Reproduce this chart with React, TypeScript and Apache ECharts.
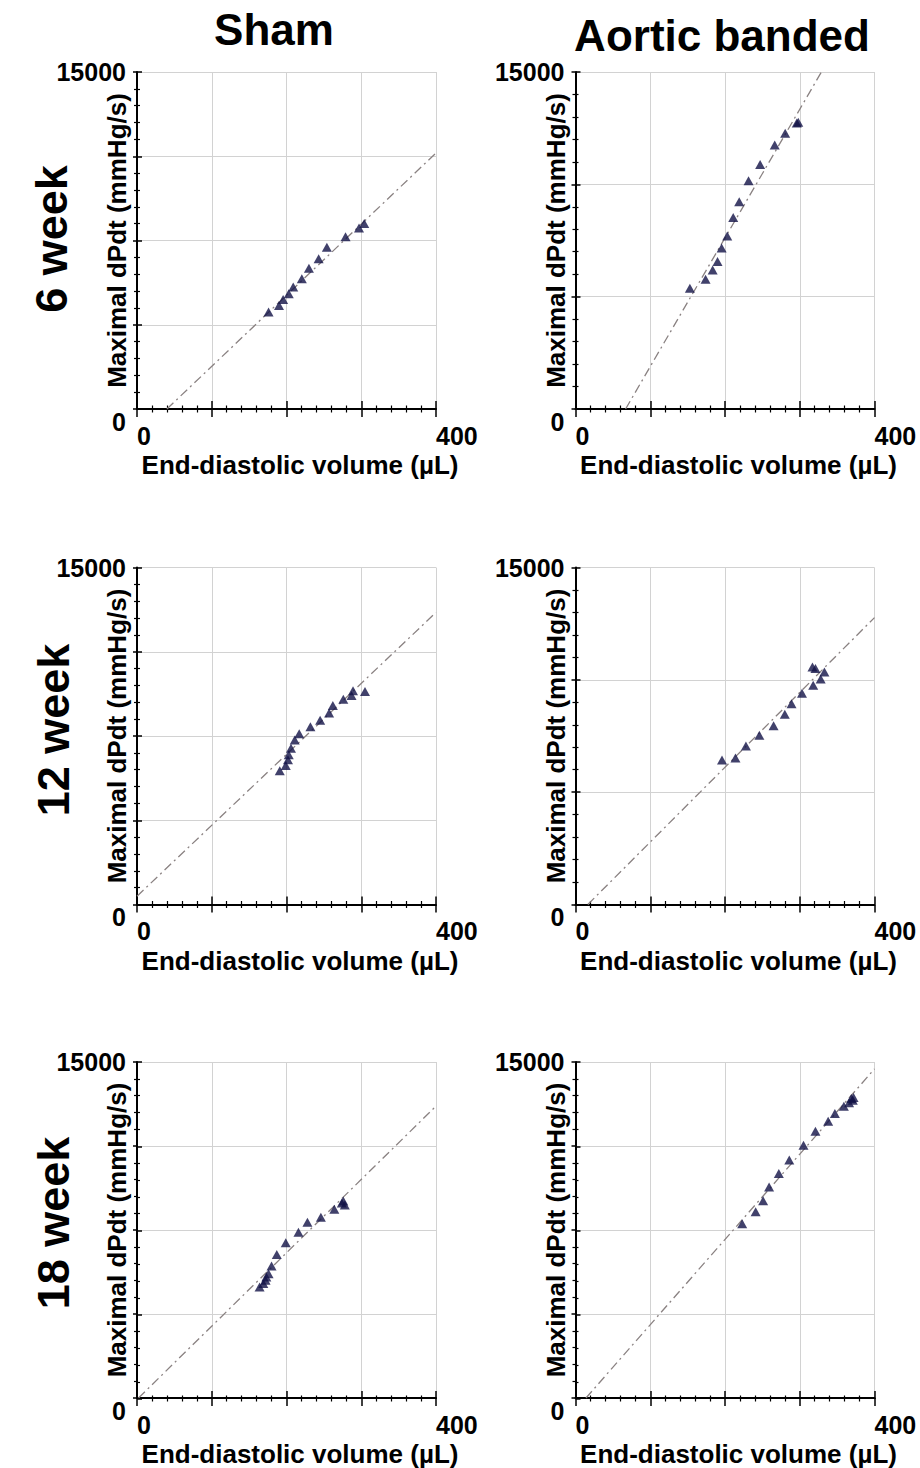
import React, { useEffect, useRef } from 'react';
import * as echarts from 'echarts';

const FONT = '"Liberation Sans", Arial, Helvetica, sans-serif';

const columnTitles = ['Sham', 'Aortic banded'];
const rowTitles = ['6 week', '12 week', '18 week'];
const xAxisName = 'End-diastolic volume (µL)';
const yAxisName = 'Maximal dPdt (mmHg/s)';
const xMin = 0;
const xMax = 400;
const xInterval = 100;
const yMin = 0;
const yMax = 15000;
const xTickLabels = [0, 400];
const yTickLabels = [0, 15000];
// y grid interval for each panel (row-major: Sham, Aortic banded)
const yIntervals = [3750, 5000, 3750, 5000, 3750, 3750];

// Sham 6 week
const sham6EDV = [176, 190, 195.5, 203, 209, 220.5, 230, 243, 254, 279, 297, 304];
const sham6DPDT = [4320, 4610, 4870, 5130, 5430, 5800, 6260, 6690, 7200, 7670, 8060, 8260];
const sham6Fit = [[40, 0], [400, 11395]];

// Aortic banded 6 week
const ab6EDV = [153, 174, 183.5, 190, 195.5, 203, 211, 219, 231.5, 247, 266.5, 280.5, 296, 298];
const ab6DPDT = [5370, 5770, 6190, 6560, 7170, 7700, 8520, 9230, 10160, 10880, 11750, 12270, 12730, 12760];
const ab6Fit = [[67, 0], [329, 15000]];

// Sham 12 week
const sham12EDV = [191, 199, 202, 203, 206, 211, 217, 232, 245, 257, 262, 276, 287, 289, 305];
const sham12DPDT = [5950, 6190, 6440, 6660, 6960, 7320, 7600, 7910, 8200, 8520, 8860, 9140, 9300, 9510, 9480];
const sham12Fit = [[0, 370], [400, 13000]];

// Aortic banded 12 week
const ab12EDV = [196, 214, 228, 246, 265, 280, 289, 303, 318, 328, 333, 317, 321];
const ab12DPDT = [6430, 6520, 7050, 7530, 7960, 8470, 8930, 9400, 9760, 10040, 10350, 10570, 10510];
const ab12Fit = [[16.5, 0], [400, 12770]];

// Sham 18 week
const sham18EDV = [164, 169, 172, 173, 176, 180, 187, 199, 216, 228, 246, 264, 274, 276, 278];
const sham18DPDT = [4960, 5110, 5260, 5400, 5550, 5890, 6410, 6930, 7400, 7850, 8070, 8430, 8710, 8800, 8620];
const sham18Fit = [[2, 0], [400, 13030]];

// Aortic banded 18 week
const ab18EDV = [223, 241, 251, 259, 272, 286, 305, 321, 338, 347, 359, 366, 369, 371, 372];
const ab18DPDT = [7780, 8310, 8810, 9420, 10020, 10620, 11280, 11910, 12360, 12700, 13030, 13180, 13370, 13290, 13410];
const ab18Fit = [[14, 0], [400, 14690]];

const panelEDV = [sham6EDV, ab6EDV, sham12EDV, ab12EDV, sham18EDV, ab18EDV];
const panelDPDT = [sham6DPDT, ab6DPDT, sham12DPDT, ab12DPDT, sham18DPDT, ab18DPDT];
const panelFit = [sham6Fit, ab6Fit, sham12Fit, ab12Fit, sham18Fit, ab18Fit];

// layout
const colLeft = [137, 575.5];
const rowTop = [72, 567.5, 1062];
const plotW = 299;
const plotH = 337;

function buildOption() {
  const grids: any[] = [];
  const xAxes: any[] = [];
  const yAxes: any[] = [];
  const series: any[] = [];
  const n = 6;
  const labelStyle = { color: '#000', fontWeight: 'bold', fontSize: 25, fontFamily: FONT };
  const nameStyle = { color: '#000', fontWeight: 'bold', fontSize: 26, fontFamily: FONT };

  for (let pass = 0; pass < 2; pass++) {
    for (let i = 0; i < n; i++) {
      const r = Math.floor(i / 2);
      const c = i % 2;
      grids.push({ left: colLeft[c], top: rowTop[r], width: plotW, height: plotH, containLabel: false });
      const gi = pass * n + i;
      const main = pass === 0;
      xAxes.push({
        type: 'value',
        gridIndex: gi,
        min: xMin,
        max: xMax,
        interval: xInterval,
        position: 'bottom',
        axisLine: { show: main, onZero: false, lineStyle: { color: '#000', width: 2 } },
        axisTick: { show: true, inside: !main, length: 8, lineStyle: { color: '#000', width: 1.5 } },
        minorTick: { show: true, splitNumber: 5, length: 3.5, lineStyle: { color: '#000', width: 1.2 } },
        splitLine: { show: main, lineStyle: { color: '#d2d2d2', width: 1 } },
        minorSplitLine: { show: false },
        axisLabel: main
          ? {
              show: true,
              margin: 14,
              ...labelStyle,
              showMinLabel: true,
              showMaxLabel: true,
              alignMinLabel: 'left',
              alignMaxLabel: 'left',
              formatter: (v: number) => (xTickLabels.indexOf(v) >= 0 ? String(v) : ''),
            }
          : { show: false },
        name: main ? xAxisName : '',
        nameLocation: 'middle',
        nameGap: 43,
        nameMoveOverlap: false,
        nameTextStyle: { ...nameStyle, padding: [0, 0, 0, 27] },
      });
      yAxes.push({
        type: 'value',
        gridIndex: gi,
        min: yMin,
        max: yMax,
        interval: yIntervals[i],
        position: 'left',
        axisLine: { show: main, onZero: false, lineStyle: { color: '#000', width: 2 } },
        axisTick: { show: true, inside: !main, length: main ? 4 : 5, lineStyle: { color: '#000', width: 1.5 } },
        minorTick: { show: true, splitNumber: 5, length: 3, lineStyle: { color: '#000', width: 1.2 } },
        splitLine: { show: main, lineStyle: { color: '#d2d2d2', width: 1 } },
        minorSplitLine: { show: false },
        axisLabel: main
          ? {
              show: true,
              margin: 11,
              ...labelStyle,
              showMinLabel: true,
              showMaxLabel: true,
              verticalAlignMinLabel: 'top',
              formatter: (v: number) => (yTickLabels.indexOf(v) >= 0 ? String(v) : ''),
            }
          : { show: false },
        name: main ? yAxisName : '',
        nameLocation: 'middle',
        nameGap: 7,
        nameMoveOverlap: false,
        nameTextStyle: nameStyle,
      });
    }
  }

  for (let i = 0; i < n; i++) {
    series.push({
      type: 'line',
      xAxisIndex: i,
      yAxisIndex: i,
      data: panelFit[i],
      symbol: 'none',
      silent: true,
      z: 2,
      lineStyle: { type: [9, 4, 2, 4], color: '#8a8282', width: 1.3 },
    });
    series.push({
      type: 'scatter',
      xAxisIndex: i,
      yAxisIndex: i,
      data: panelEDV[i].map((x, k) => [x, panelDPDT[i][k]]),
      symbol: 'triangle',
      symbolSize: [10, 9],
      z: 3,
      itemStyle: { color: '#111146' },
    });
  }

  const titleY = [29, 35];
  const titleX = [274, 722];
  const rowLabelX = [51, 53, 53];
  const rowLabelY = [239, 730, 1223];
  const graphic: any[] = [];
  columnTitles.forEach((t, c) => {
    graphic.push({
      type: 'text',
      x: titleX[c],
      y: titleY[c],
      style: { text: t, fill: '#000', font: `bold 44px ${FONT}`, align: 'center', verticalAlign: 'middle' },
    });
  });
  rowTitles.forEach((t, r) => {
    graphic.push({
      type: 'text',
      x: rowLabelX[r],
      y: rowLabelY[r],
      rotation: Math.PI / 2,
      style: { text: t, fill: '#000', font: `bold 45px ${FONT}`, align: 'center', verticalAlign: 'middle' },
    });
  });

  return {
    animation: false,
    backgroundColor: '#fff',
    grid: grids,
    xAxis: xAxes,
    yAxis: yAxes,
    series,
    graphic,
  };
}

export default function App() {
  const ref = useRef<HTMLDivElement>(null);
  useEffect(() => {
    document.body.style.margin = '0';
    if (!ref.current) return;
    const chart = echarts.init(ref.current, null, { renderer: 'svg' });
    chart.setOption(buildOption() as any);
    return () => chart.dispose();
  }, []);
  return <div ref={ref} style={{ width: 920, height: 1468 }} />;
}
